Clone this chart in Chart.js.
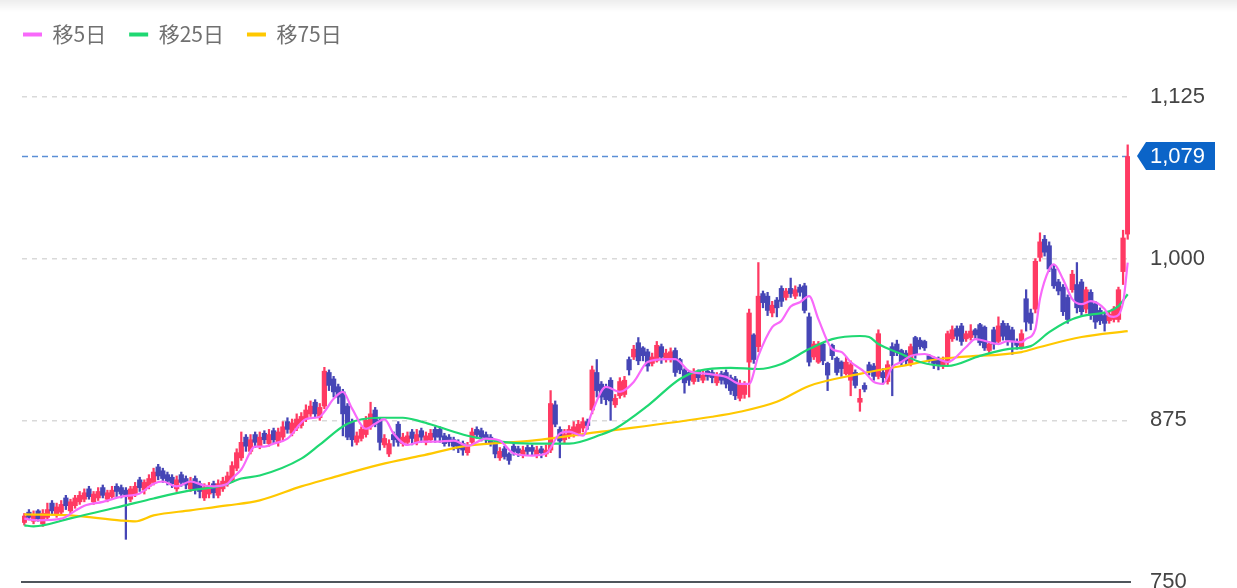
<!DOCTYPE html>
<html><head><meta charset="utf-8">
<script src="https://cdn.jsdelivr.net/npm/chart.js@4.4.1/dist/chart.umd.min.js"></script>
<style>
html,body{margin:0;padding:0;background:#fff;overflow:hidden}
#wrap{position:relative;width:1237px;height:588px}
#shade{position:absolute;left:0;top:0;width:100%;height:12px;background:linear-gradient(rgba(0,0,0,0.07),rgba(0,0,0,0));pointer-events:none}
canvas{display:block}
</style></head><body>
<div id="wrap"><canvas id="c" width="1237" height="588"></canvas><div id="shade"></div></div>
<script>
// Daily candles (oldest -> newest)
const opens = [
796,804,797,805,795,800,811,802,804,815,
805,809,812,814,822,812,815,823,814,816,
824,823,821,814,818,829,821,824,827,839,
836,833,831,822,833,830,822,830,826,815,
818,826,817,822,826,829,838,846,862,851,
864,855,865,857,867,858,862,874,865,869,
871,876,880,889,877,886,912,907,901,897,
886,874,858,861,864,870,883,875,856,849,
864,872,857,858,866,858,867,858,860,868,
868,863,862,860,858,857,850,858,868,867,
864,862,858,846,853,849,855,853,848,854,
854,848,853,849,852,887,868,860,863,865,
865,869,874,883,912,903,901,906,887,894,
895,922,924,935,931,928,919,921,932,922,
922,929,922,914,912,905,913,906,913,912,
904,911,912,908,907,892,895,920,941,932,
973,971,958,968,977,970,977,971,978,979,
955,924,920,934,919,933,923,920,911,906,
912,889,902,918,917,909,912,905,932,934,
929,927,919,939,937,936,925,923,923,917,
920,938,946,948,938,939,945,949,947,929,
945,936,950,948,945,936,932,969,958,961,
1001,1015,1010,992,982,978,970,976,980,982,
961,974,965,960,956,952,953,953,990,1019];
const highs = [
803,806,805,806,806,811,813,811,813,817,
814,817,820,822,824,820,823,825,821,824,
826,825,823,824,827,831,829,833,838,841,
838,835,833,832,835,832,831,832,828,826,
827,828,829,831,835,843,853,866,864,864,
866,866,867,868,869,869,874,877,876,880,
881,887,890,891,888,916,914,909,903,899,
888,876,866,870,878,889,885,877,864,860,
866,874,865,866,868,868,869,866,868,870,
870,865,864,862,860,859,858,869,870,869,
866,864,860,854,855,850,857,855,855,856,
856,855,855,856,898,890,870,868,871,874,
875,877,876,917,922,905,903,908,895,908,
909,924,933,939,932,930,927,936,934,930,
931,931,923,915,913,915,914,913,914,914,
912,913,914,910,909,906,905,961,942,997,
975,974,967,970,979,977,985,979,980,981,
958,936,936,935,920,934,924,921,924,921,
914,899,904,920,919,945,915,921,935,937,
930,929,934,940,939,937,926,924,924,924,
944,948,948,950,944,949,946,950,948,936,
947,955,952,950,947,938,945,976,961,1000,
1020,1018,1013,995,984,980,972,991,997,984,
978,976,967,962,958,959,963,978,1022,1088];
const lows = [
794,798,795,797,793,798,802,800,802,806,
803,807,810,812,814,810,813,815,812,814,
816,815,783,812,816,820,818,822,825,829,
827,825,823,820,824,822,820,818,815,813,
815,815,815,820,824,827,836,844,851,849,
854,853,857,855,857,855,860,865,863,867,
869,874,878,877,875,884,898,893,888,863,
860,855,856,859,862,868,870,852,854,847,
855,855,855,856,856,856,858,856,858,858,
858,855,855,852,850,848,848,856,861,859,
857,855,846,844,845,841,848,847,846,848,
848,846,846,847,850,870,846,857,861,862,
863,866,868,880,893,888,887,875,885,892,
893,910,922,918,921,913,917,920,919,920,
920,909,911,896,902,903,905,904,906,904,
902,903,900,895,891,890,892,893,919,928,
962,956,955,955,963,968,970,969,971,958,
917,922,919,918,898,922,910,909,910,894,
900,882,897,910,906,907,903,903,894,925,
917,918,917,923,930,929,920,915,914,915,
918,936,937,933,936,937,938,933,929,926,
930,934,937,933,926,930,930,944,945,958,
998,1002,990,977,972,956,950,974,958,956,
958,953,946,949,944,950,951,951,980,1015];
const closes = [
801,800,802,799,803,806,805,808,810,809,
812,815,817,819,816,818,820,817,819,821,
820,818,816,822,824,823,827,830,835,832,
830,828,826,829,827,825,828,822,820,823,
824,819,826,828,832,840,850,858,855,860,
858,862,860,864,860,866,870,868,873,876,
878,883,886,880,885,913,902,897,893,880,
862,860,863,868,875,880,872,858,861,857,
860,858,862,863,861,864,862,863,865,862,
862,857,858,855,853,852,855,866,864,862,
860,857,849,851,847,844,851,850,852,851,
851,852,850,852,888,872,859,864,868,870,
872,874,871,914,898,893,891,890,892,905,
906,914,930,921,925,917,924,933,924,927,
928,912,914,904,906,911,908,910,909,908,
909,906,903,898,894,903,902,958,922,971,
966,960,964,962,967,975,973,976,974,960,
920,934,934,921,910,925,912,915,920,918,
902,892,899,913,909,942,908,918,925,928,
920,921,932,926,932,931,922,919,918,921,
942,945,940,936,942,944,941,935,931,934,
934,948,940,937,936,933,942,951,950,998,
1013,1005,992,979,975,959,953,988,962,959,
976,956,951,952,950,957,961,976,1016,1079];

// Moving averages (day index, value)
const ma5Idx = [0,3,8,11,13,17,21,25,28,30,33,36,39,41,44,45,47,50,52,54,57,61,64,65,67,69,71,74,76,78,80,83,86,89,93,96,100,103,106,110,113,116,118,121,123,126,129,132,135,139,141,144,148,152,155,157,159,162,164,166,168,170,172,175,177,179,182,184,186,188,190,192,195,198,200,204,206,211,213,216,217,219,220,222,223,225,227,229,231,234,235,236,238,239];
const ma5Val = [799,797.7,799,805,809,812,816,818.5,826,827.7,824,827.7,824.6,824,826,830,837,854.7,854.7,857,860.8,876,877.8,881.6,891.6,897,884,868.5,872.4,876,864.7,856,858.5,858.5,859.3,855.4,860.8,859.3,849.3,847.7,849.3,864.7,866.2,863.1,881.6,900.9,897,904.7,920.1,922.4,922.4,913.2,910.9,908.6,903.2,903.2,924.8,947,952,963,966.3,971,953.3,930.1,927.8,920.1,912.4,904.7,903.2,916.3,920.1,924.8,926.3,922.4,920.1,931.7,937.8,934,936.3,935.5,938,945.5,969,991.8,995.6,984,968.7,964.8,967.1,961,955.6,955,966,997];
const ma25Idx = [0,2,10,21,28,36,43,47,51,60,64,70,77,82,86,89,96,103,110,118,125,128,135,142,146,153,159,164,170,175,181,183,185,190,194,200,207,213,218,222,226,229,235,237,239];
const ma25Val = [793.8,793,799.2,808.5,814.6,820.8,824.6,830,832.3,845.4,856.2,872.4,877,877,874,870.8,863.1,858.5,857,857,864,868.5,886.2,907,913.2,915.5,914.7,918.6,930.1,937.8,940.2,939.4,934,926.3,920.1,917,924.8,930.1,932.4,943.2,951.7,955.6,959.4,963.3,972.5];
const ma75Idx = [0,10,21,24,28,36,44,51,60,66,77,86,96,110,125,149,155,163,170,181,190,198,203,216,220,229,239];
const ma75Val = [802.3,801.5,797.5,796.9,801.5,805.4,809.2,813.1,823.9,830,840.8,847.7,855.4,859.3,866.2,877.8,881.6,889.3,901.6,910.9,917,922.4,924,927.8,931.7,939.4,944];

const seriesNames = ['移5日','移25日','移75日'];
const yTicks = [750, 875, 1000, 1125];

const UP = '#ff3a63', DOWN = '#4646b6';
const dayIdx = closes.map((_, i) => i);
const candleColors = dayIdx.map(i => closes[i] >= opens[i] ? UP : DOWN);
const bodies = dayIdx.map(i => ({x: i, y: [opens[i], closes[i]]}));
const wicks = dayIdx.map(i => ({x: i, y: [lows[i], highs[i]]}));
const pts = (ix, v) => ix.map((x, k) => ({x, y: v[k]}));
const lastPrice = closes[closes.length - 1];

const legendGap = {
  id: 'legendGap',
  beforeInit(chart) {
    const lg = chart.legend;
    if (!lg) return;
    const origFit = lg.fit;
    lg.fit = function () { origFit.call(this); this.height = 96; };
  }
};

const priceTag = {
  id: 'priceTag',
  beforeDatasetsDraw(chart) {
    const {ctx, chartArea: a, scales: {y}} = chart;
    const py = Math.round(y.getPixelForValue(lastPrice)) + 0.5;
    ctx.save();
    ctx.strokeStyle = '#5b8fd6';
    ctx.lineWidth = 1.5;
    ctx.setLineDash([6, 4]);
    ctx.beginPath(); ctx.moveTo(a.left, py); ctx.lineTo(a.right + 2, py); ctx.stroke();
    ctx.restore();
  },
  afterDraw(chart) {
    const {ctx, chartArea: a, scales: {y}} = chart;
    const py = Math.round(y.getPixelForValue(lastPrice));
    const x0 = a.right + 7, x1 = a.right + 16, x2 = a.right + 85, h = 14;
    ctx.save();
    ctx.fillStyle = '#0b64c8';
    ctx.beginPath();
    ctx.moveTo(x0, py); ctx.lineTo(x1, py - h); ctx.lineTo(x2, py - h);
    ctx.lineTo(x2, py + h); ctx.lineTo(x1, py + h); ctx.closePath(); ctx.fill();
    ctx.fillStyle = '#ffffff';
    ctx.font = "22px 'Liberation Sans', Arial, sans-serif";
    ctx.textBaseline = 'middle'; ctx.textAlign = 'left';
    ctx.fillText(lastPrice.toLocaleString('en-US'), a.right + 20, py + 1);
    ctx.restore();
  }
};

new Chart(document.getElementById('c'), {
  type: 'bar',
  data: {
    datasets: [
      {type: 'line', label: seriesNames[0], data: pts(ma5Idx, ma5Val), borderColor: '#f869fa', backgroundColor: '#f869fa', borderWidth: 2.2, pointRadius: 0, cubicInterpolationMode: 'monotone', order: 0},
      {type: 'line', label: seriesNames[1], data: pts(ma25Idx, ma25Val), borderColor: '#1fd872', backgroundColor: '#1fd872', borderWidth: 2.2, pointRadius: 0, cubicInterpolationMode: 'monotone', order: 0},
      {type: 'line', label: seriesNames[2], data: pts(ma75Idx, ma75Val), borderColor: '#ffc800', backgroundColor: '#ffc800', borderWidth: 2.2, pointRadius: 0, cubicInterpolationMode: 'monotone', order: 0},
      {label: 'body', data: bodies, backgroundColor: candleColors, borderWidth: 0, grouped: false, barPercentage: 1, categoryPercentage: 1, minBarLength: 2, order: 1},
      {label: 'wick', data: wicks, backgroundColor: candleColors, borderWidth: 0, grouped: false, barThickness: 1.6, order: 2}
    ]
  },
  options: {
    responsive: false,
    animation: false,
    events: [],
    layout: {padding: {top: 1, left: 0, right: 0, bottom: 6}},
    plugins: {
      tooltip: {enabled: false},
      legend: {
        align: 'start',
        labels: {
          boxWidth: 19, boxHeight: 4, padding: 23, color: '#707070',
          font: {family: "'Noto Sans CJK JP', 'Noto Sans', sans-serif", size: 21},
          generateLabels(chart) {
            const items = Chart.defaults.plugins.legend.labels.generateLabels(chart);
            return items.filter(it => seriesNames.includes(it.text)).map(it => Object.assign(it, {
              fillStyle: it.strokeStyle, lineWidth: 0, strokeStyle: 'rgba(0,0,0,0)'
            }));
          }
        }
      }
    },
    scales: {
      x: {
        type: 'linear', min: -0.5, max: closes.length - 0.5, offset: false,
        grid: {display: false, drawTicks: false},
        ticks: {display: false},
        border: {display: true, color: '#4f555b', width: 2}
      },
      y: {
        position: 'right', min: yTicks[0], max: yTicks[yTicks.length - 1],
        afterBuildTicks(s) { s.ticks = yTicks.map(v => ({value: v})); },
        ticks: {padding: 20, color: '#444', font: {family: "'Liberation Sans', Arial, sans-serif", size: 22}},
        grid: {drawTicks: false, lineWidth: 1.5, color: c => (c.tick && c.tick.value === yTicks[0]) ? 'rgba(0,0,0,0)' : '#d9d9d9'},
        border: {display: false, dash: [5, 5]},
        afterFit(s) { s.width = 107; s.paddingTop = 0; s.paddingBottom = 0; s.paddingLeft = 22; }
      }
    }
  },
  plugins: [legendGap, priceTag]
});
</script>
</body></html>
